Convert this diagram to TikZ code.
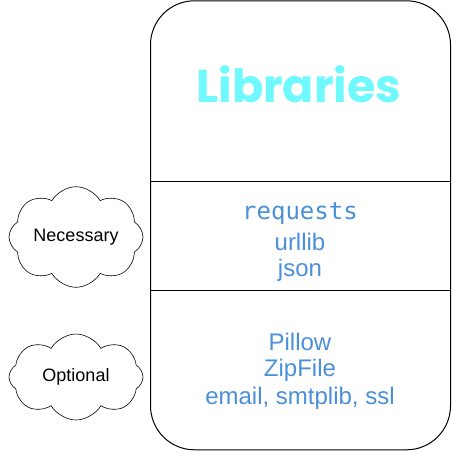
\documentclass[tikz,border=0pt]{standalone}
\usepackage{fontspec}
\setmainfont{Liberation Sans}
\newfontfamily\monof{DejaVu Sans Mono}
\newfontfamily\titlef{Poppins}
\usetikzlibrary{shapes.symbols}
\definecolor{libblue}{HTML}{4A90D9}
\definecolor{libcyan}{HTML}{70F8FF}
\tikzset{
  cloudbox/.style={cloud, cloud puffs=8, cloud puff arc=120, aspect=1.5, draw=black, line width=0.6pt,
    minimum width=134pt, minimum height=86pt, inner sep=0pt, font=\fontsize{18}{20}\selectfont},
  itemtxt/.style={text=libblue, font=\fontsize{24}{28}\selectfont, align=center},
  frame/.style={draw=black, line width=1pt}
}
\begin{document}
\begin{tikzpicture}[x=1pt,y=-1pt]
\useasboundingbox (0,0) rectangle (452,451);
\draw[frame, rounded corners=44pt] (150.5,0.8) rectangle (450.5,449.8);
\coordinate (d1l) at (150.5,181);
\coordinate (d1r) at (450.5,181);
\coordinate (d2l) at (150.5,290);
\coordinate (d2r) at (450.5,290);
\draw[frame] (d1l) -- (d1r);
\draw[frame] (d2l) -- (d2r);
\node[text=libcyan, font=\titlef\bfseries\fontsize{46}{50}\selectfont] (title) at (299,84) {Libraries};
\node[text=libblue, font=\monof\fontsize{24}{28}\selectfont] (req) at (300,214) {requests};
\node[itemtxt] (url) at (300,242) {urllib};
\node[itemtxt] (json) at (300,270) {json};
\node[itemtxt] (pil) at (300,342) {Pillow};
\node[itemtxt] (zip) at (300,370) {ZipFile};
\node[itemtxt] (mail) at (300,398) {email, smtplib, ssl};
\node[cloudbox] (nec) at (76,237) {Necessary};
\node[cloudbox] (opt) at (76,377) {Optional};
\end{tikzpicture}
\end{document}
